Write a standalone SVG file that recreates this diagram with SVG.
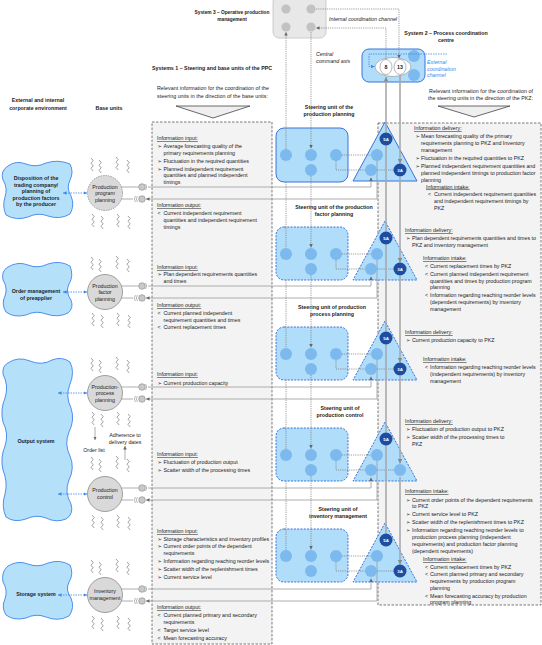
<svg xmlns="http://www.w3.org/2000/svg" width="542" height="645" viewBox="0 0 542 645">
<style>
text{font-family:"Liberation Sans",Arial,"DejaVu Sans",sans-serif;font-size:5.3px;fill:#222}
.b{font-weight:bold}
.u{text-decoration:underline}
.i{font-style:italic}
.m{text-anchor:middle}
.bul{font-family:"DejaVu Sans",sans-serif;font-size:5.2px}
.env{fill:#b5e0fa;stroke:#3d86ec;stroke-width:0.9}
.bu{fill:#d9d9d9;stroke:#8a8a8a;stroke-width:0.8}
.su{fill:#b0ddf9;stroke:#3b72dc;stroke-width:1}
.dash{stroke-dasharray:2,1.3}
.lc{fill:#7cb9ef}
.dc{fill:#1e4c9f}
.wt{fill:#fff;font-weight:bold;font-size:4.4px;text-anchor:middle}
.info{fill:#f3f3f3;stroke:#444;stroke-width:0.7;stroke-dasharray:2.5,1.5}
.dot{fill:none;stroke:#777;stroke-width:0.7;stroke-dasharray:1.2,1}
.gl{fill:none;stroke:#9a9a9a;stroke-width:0.8}
.cl{fill:none;stroke:#a9a9a9;stroke-width:1.6}
.ba{fill:none;stroke:#3d86ec;stroke-width:0.8;stroke-dasharray:1.5,1}
.sq{fill:none;stroke:#555;stroke-width:0.55}
.lp{fill:#c9c9c9;stroke:#888;stroke-width:0.6}
.arc{fill:none;stroke:#888;stroke-width:0.6}
</style>
<defs>
<marker id="mg" viewBox="0 0 6 6" refX="6" refY="3" markerUnits="userSpaceOnUse" markerWidth="3.5" markerHeight="3.5" orient="auto-start-reverse"><path d="M0,0L6,3L0,6z" fill="#666"/></marker>
<marker id="mb" viewBox="0 0 6 6" refX="6" refY="3" markerUnits="userSpaceOnUse" markerWidth="3.5" markerHeight="3.5" orient="auto-start-reverse"><path d="M0,0L6,3L0,6z" fill="#3d86ec"/></marker>
<marker id="mc" viewBox="0 0 6 6" refX="6" refY="3" markerUnits="userSpaceOnUse" markerWidth="4.5" markerHeight="4.5" orient="auto-start-reverse"><path d="M0,0L6,3L0,6z" fill="#8a8a8a"/></marker>
<path id="sq" class="sq" d="M0,0 l2.2,2.6 l-2.2,2.6 l2.2,2.6 l-2.2,2.6 l2.2,2.6"/>
</defs>

<!-- information boxes -->
<g id="info-left"><rect class="info" x="152" y="122" width="120" height="522"/></g>
<g id="info-right"><rect class="info" x="378" y="123" width="163" height="482"/></g>

<!-- titles -->
<g id="titles">
<text class="b m" x="232" y="14" style="font-size:4.8px">System 3 – Operative production</text>
<text class="b m" x="232" y="21" style="font-size:4.8px">management</text>
<text class="i" x="329" y="21">Internal coordination channel</text>
<text class="i" x="316" y="56">Central</text>
<text class="i" x="316" y="63">command axis</text>
<text class="b m" x="446" y="35">System 2 – Process coordination</text>
<text class="b m" x="446" y="42">centre</text>
<text class="i" x="427" y="64" style="fill:#3d86ec">External</text>
<text class="i" x="427" y="70.5" style="fill:#3d86ec">coordination</text>
<text class="i" x="427" y="77" style="fill:#3d86ec">channel</text>
<text class="b" x="152" y="70">Systems 1 – Steering and base units of the PPC</text>
<text x="157" y="90" textLength="112" lengthAdjust="spacing">Relevant information for the coordination of the</text>
<text x="157" y="97.5" textLength="111" lengthAdjust="spacing">steering units in the direction of the base units:</text>
<text x="429" y="92.5" textLength="104" lengthAdjust="spacing">Relevant information for the coordination of</text>
<text x="428" y="100" textLength="105" lengthAdjust="spacing">the steering units in the direction of the PKZ:</text>
<text class="b m" x="38" y="102">External and internal</text>
<text class="b m" x="38" y="110">corporate environment</text>
<text class="b m" x="109" y="110">Base units</text>
<polygon points="176,106 250,106 213,118" fill="#efefef" stroke="#444" stroke-width="0.8"/>
<polygon points="438,106 510,106 474,117" fill="#efefef" stroke="#444" stroke-width="0.8"/>
<text class="b m" x="329" y="109">Steering unit of the</text>
<text class="b m" x="329" y="116">production planning</text>
<text class="b m" x="334" y="209">Steering unit of the production</text>
<text class="b m" x="334" y="215.5">factor planning</text>
<text class="b m" x="332" y="309">Steering unit of production</text>
<text class="b m" x="332" y="315.5">process planning</text>
<text class="b m" x="340" y="410">Steering unit of</text>
<text class="b m" x="340" y="417">production control</text>
<text class="b m" x="338" y="511">Steering unit of</text>
<text class="b m" x="338" y="518">inventory management</text>
</g>

<!-- System 3 -->
<g id="system3">
<rect x="273" y="-4" width="53" height="42" rx="6" fill="#e8e8e8" stroke="#c2c2c2" stroke-width="0.8"/>
<circle cx="286" cy="9" r="4.6" fill="#c2c2c2"/><circle cx="311" cy="9" r="4.6" fill="#c2c2c2"/>
<circle cx="286" cy="27" r="4.6" fill="#c2c2c2"/><circle cx="311" cy="27" r="4.6" fill="#c2c2c2"/>
</g>

<!-- System 2 -->
<g id="system2">
<rect class="su" x="362" y="49" width="63" height="33" rx="7"/>
<circle class="lc" cx="414" cy="56" r="6"/><circle class="lc" cx="414" cy="75" r="6"/>
<ellipse cx="393" cy="67" rx="18" ry="9.5" fill="#fff" stroke="#999" stroke-width="0.7"/>
<ellipse cx="386" cy="67" rx="6" ry="7.5" fill="#fff" stroke="#888" stroke-width="0.6"/>
<ellipse cx="400" cy="67" rx="6" ry="7.5" fill="#fff" stroke="#888" stroke-width="0.6"/>
<text class="b m" x="386" y="69">8</text>
<text class="b m" x="400" y="69">13</text>
</g>

<!-- environment -->
<g id="env-disposition">
<path class="env" d="M8,166 Q16,160 26,164 Q36,168 46,163 Q58,159 70,164 Q74,172 70,180 Q66,188 71,196 Q75,205 70,214 Q60,220 48,216 Q38,212 28,217 Q16,221 6,215 Q2,206 5,197 Q8,188 3,180 Q0,171 8,166 Z"/>
<text class="b m" x="36" y="180">Disposition of the</text>
<text class="b m" x="36" y="186.6">trading company/</text>
<text class="b m" x="36" y="193.2">planning of</text>
<text class="b m" x="36" y="199.8">production factors</text>
<text class="b m" x="36" y="206.4">by the producer</text>
</g>
<g id="env-order">
<path class="env" d="M8,267 Q18,261 28,265 Q38,269 48,264 Q60,260 70,266 Q74,276 69,284 Q65,292 71,300 Q74,308 68,313 Q58,318 46,314 Q36,310 26,315 Q14,318 6,312 Q1,304 5,296 Q8,288 3,280 Q1,271 8,267 Z"/>
<text class="b m" x="36" y="292.5">Order management</text>
<text class="b m" x="36" y="299.5">of preapplier</text>
</g>
<g id="env-output">
<path class="env" d="M8,363 Q18,356 30,361 Q42,366 52,360 Q62,356 70,362 Q75,372 70,384 Q65,396 71,408 Q75,420 69,432 Q64,444 70,456 Q75,468 69,480 Q64,492 71,504 Q74,514 66,519 Q56,523 46,518 Q36,514 26,519 Q14,523 6,517 Q1,506 5,494 Q8,482 3,470 Q0,458 5,446 Q9,434 3,422 Q0,410 5,398 Q9,386 3,374 Q2,366 8,363 Z"/>
<text class="b m" x="36" y="443">Output system</text>
</g>
<g id="env-storage">
<path class="env" d="M8,566 Q18,560 28,564 Q38,568 48,563 Q60,559 70,565 Q74,574 69,582 Q65,590 71,598 Q75,608 69,616 Q58,622 46,617 Q36,613 26,618 Q14,621 6,615 Q1,607 5,599 Q8,590 3,582 Q1,572 8,566 Z"/>
<text class="b m" x="36" y="596">Storage system</text>
</g>

<!-- base units -->
<g id="bu-program">
<circle class="bu" cx="105" cy="193" r="17.5" style="stroke-dasharray:1.5,1"/>
<text class="m" x="105" y="188.5">Production</text><text class="m" x="105" y="195">program</text><text class="m" x="105" y="201.5">planning</text>
<use href="#sq" x="91" y="158"/><use href="#sq" x="99" y="160"/><use href="#sq" x="116" y="157"/><use href="#sq" x="127" y="160"/>
<use href="#sq" x="92" y="214"/><use href="#sq" x="101" y="216"/><use href="#sq" x="117" y="214"/><use href="#sq" x="128" y="216"/>
<line class="gl" x1="121" y1="187" x2="138.7" y2="187"/><circle class="lp" cx="142" cy="187" r="3.3"/><path class="arc" d="M145.5,184 Q148,187 145.5,190"/>
<line class="gl" x1="121" y1="199" x2="133" y2="199"/><circle class="lp" cx="142" cy="199" r="3.3"/><path class="arc" d="M137.5,196 Q135,199 137.5,202 M135.5,196 Q133,199 135.5,202"/>
</g>
<g id="bu-factor">
<circle class="bu" cx="105" cy="292" r="17.5"/>
<text class="m" x="105" y="287.5">Production</text><text class="m" x="105" y="294">factor</text><text class="m" x="105" y="300.5">planning</text>
<use href="#sq" x="91" y="257"/><use href="#sq" x="99" y="259"/><use href="#sq" x="116" y="256"/><use href="#sq" x="127" y="259"/>
<use href="#sq" x="92" y="313"/><use href="#sq" x="101" y="315"/><use href="#sq" x="117" y="313"/><use href="#sq" x="128" y="315"/>
<line class="gl" x1="121" y1="286" x2="138.7" y2="286"/><circle class="lp" cx="142" cy="286" r="3.3"/><path class="arc" d="M145.5,283 Q148,286 145.5,289"/>
<line class="gl" x1="121" y1="298" x2="133" y2="298"/><circle class="lp" cx="142" cy="298" r="3.3"/><path class="arc" d="M137.5,295 Q135,298 137.5,301 M135.5,295 Q133,298 135.5,301"/>
</g>
<g id="bu-process">
<circle class="bu" cx="105" cy="393" r="17.5"/>
<text class="m" x="105" y="388.5">Production-</text><text class="m" x="105" y="395">process</text><text class="m" x="105" y="401.5">planning</text>
<use href="#sq" x="91" y="358"/><use href="#sq" x="99" y="360"/><use href="#sq" x="116" y="357"/><use href="#sq" x="127" y="360"/>
<use href="#sq" x="92" y="412"/><use href="#sq" x="101" y="414"/><use href="#sq" x="117" y="412"/><use href="#sq" x="128" y="414"/>
<line class="gl" x1="121" y1="387" x2="138.7" y2="387"/><circle class="lp" cx="142" cy="387" r="3.3"/><path class="arc" d="M145.5,384 Q148,387 145.5,390"/>
<line class="gl" x1="121" y1="399" x2="133" y2="399"/><circle class="lp" cx="142" cy="399" r="3.3"/><path class="arc" d="M137.5,396 Q135,399 137.5,402 M135.5,396 Q133,399 135.5,402"/>
</g>
<g id="bu-control">
<circle class="bu" cx="105" cy="494" r="17.5"/>
<text class="m" x="105" y="492">Production</text><text class="m" x="105" y="498.5">control</text>
<use href="#sq" x="91" y="457"/><use href="#sq" x="99" y="459"/><use href="#sq" x="116" y="456"/><use href="#sq" x="127" y="459"/>
<use href="#sq" x="92" y="515"/><use href="#sq" x="101" y="517"/><use href="#sq" x="117" y="515"/><use href="#sq" x="128" y="517"/>
<line class="gl" x1="121" y1="488" x2="138.7" y2="488"/><circle class="lp" cx="142" cy="488" r="3.3"/><path class="arc" d="M145.5,485 Q148,488 145.5,491"/>
<line class="gl" x1="121" y1="500" x2="133" y2="500"/><circle class="lp" cx="142" cy="500" r="3.3"/><path class="arc" d="M137.5,497 Q135,500 137.5,503 M135.5,497 Q133,500 135.5,503"/>
</g>
<g id="bu-inventory">
<circle class="bu" cx="105" cy="595" r="17.5"/>
<text class="m" x="105" y="593">Inventory</text><text class="m" x="105" y="599.5">management</text>
<use href="#sq" x="91" y="560"/><use href="#sq" x="99" y="562"/><use href="#sq" x="116" y="559"/><use href="#sq" x="127" y="562"/>
<use href="#sq" x="92" y="616"/><use href="#sq" x="101" y="618"/><use href="#sq" x="117" y="616"/><use href="#sq" x="128" y="618"/>
<line class="gl" x1="121" y1="589" x2="138.7" y2="589"/><circle class="lp" cx="142" cy="589" r="3.3"/><path class="arc" d="M145.5,586 Q148,589 145.5,592"/>
<line class="gl" x1="121" y1="601" x2="133" y2="601"/><circle class="lp" cx="142" cy="601" r="3.3"/><path class="arc" d="M137.5,598 Q135,601 137.5,604 M135.5,598 Q133,601 135.5,604"/>
</g>

<!-- steering units -->
<g id="su-planning">
<rect class="su" x="276" y="128" width="72" height="54" rx="8"/>
<circle class="lc" cx="286" cy="155" r="6"/><circle class="lc" cx="311" cy="155" r="6"/><circle class="lc" cx="336" cy="155" r="6"/><circle class="lc" cx="311" cy="170" r="6"/>
</g>
<g id="su-factor">
<rect class="su dash" x="276" y="227" width="72" height="53" rx="8"/>
<circle class="lc" cx="286" cy="254" r="6"/><circle class="lc" cx="311" cy="254" r="6"/><circle class="lc" cx="336" cy="254" r="6"/><circle class="lc" cx="311" cy="269" r="6"/>
</g>
<g id="su-process">
<rect class="su dash" x="276" y="327" width="72" height="53" rx="8"/>
<circle class="lc" cx="286" cy="354" r="6"/><circle class="lc" cx="311" cy="354" r="6"/><circle class="lc" cx="336" cy="354" r="6"/><circle class="lc" cx="311" cy="369" r="6"/>
</g>
<g id="su-control">
<rect class="su dash" x="276" y="428" width="72" height="53" rx="8"/>
<circle class="lc" cx="286" cy="455" r="6"/><circle class="lc" cx="311" cy="455" r="6"/><circle class="lc" cx="336" cy="455" r="6"/><circle class="lc" cx="311" cy="470" r="6"/>
</g>
<g id="su-inventory">
<rect class="su dash" x="276" y="529" width="72" height="53" rx="8"/>
<circle class="lc" cx="286" cy="556" r="6"/><circle class="lc" cx="311" cy="556" r="6"/><circle class="lc" cx="336" cy="556" r="6"/><circle class="lc" cx="311" cy="571" r="6"/>
</g>

<!-- PKZ triangles -->
<g id="pkz-1">
<polygon class="su" points="385,122 353,181 417,181"/>
</g>
<g id="pkz-2">
<polygon class="su dash" points="385,221 353,280 417,280"/>
</g>
<g id="pkz-3">
<polygon class="su dash" points="385,321 353,380 417,380"/>
</g>
<g id="pkz-4">
<polygon class="su dash" points="385,422 353,481 417,481"/>
</g>
<g id="pkz-5">
<polygon class="su dash" points="385,523 353,582 417,582"/>
</g>

<!-- connectors -->
<g id="connectors">
<path class="ba" marker-start="url(#mb)" marker-end="url(#mb)" d="M63,193H87"/>
<path class="ba" marker-start="url(#mb)" marker-end="url(#mb)" d="M63,292H87"/>
<path class="ba" marker-start="url(#mb)" marker-end="url(#mb)" d="M58,393H87"/>
<path class="ba" marker-start="url(#mb)" marker-end="url(#mb)" d="M58,494H87"/>
<path class="ba" marker-start="url(#mb)" marker-end="url(#mb)" d="M58,595H87"/>
<path class="ba" marker-end="url(#mb)" d="M447,54H369V66.5H374.5"/>
<path class="gl" marker-end="url(#mg)" d="M148,187H371V177.5"/><path class="gl" marker-end="url(#mg)" d="M377,161V199H146"/>
<path class="gl" marker-end="url(#mg)" d="M148,286H371V276.5"/><path class="gl" marker-end="url(#mg)" d="M377,260V298H146"/>
<path class="gl" marker-end="url(#mg)" d="M148,387H371V376.5"/><path class="gl" marker-end="url(#mg)" d="M377,360V399H146"/>
<path class="gl" marker-end="url(#mg)" d="M148,488H371V477.5"/><path class="gl" marker-end="url(#mg)" d="M377,461V500H146"/>
<path class="gl" marker-end="url(#mg)" d="M148,589H371V578.5"/><path class="gl" marker-end="url(#mg)" d="M377,562V601H146"/>
<path class="dot" marker-end="url(#mg)" d="M286,149V32"/>
<path class="dot" marker-end="url(#mg)" d="M311,32V148.5"/>
<path class="dot" d="M286,182V248M286,280V348M286,380V449M286,481V550"/>
<path class="dot" marker-end="url(#mg)" d="M311,176V247.5"/>
<path class="dot" marker-end="url(#mg)" d="M311,275V347.5"/>
<path class="dot" marker-end="url(#mg)" d="M311,375V448.5"/>
<path class="dot" marker-end="url(#mg)" d="M311,476V549.5"/>
<path class="dot" d="M342,155H371M336,161V170H365M377,170H394"/>
<path class="dot" d="M342,254H371M336,260V269H365M377,269H394"/>
<path class="dot" d="M342,354H371M336,360V369H365M377,369H394"/>
<path class="dot" d="M342,455H371M336,461V470H365M377,470H394"/>
<path class="dot" d="M342,556H371M336,562V571H365M377,571H394"/>
<path class="dot" marker-end="url(#mg)" d="M316,9H399V58.5"/>
<path class="dot" marker-end="url(#mg)" d="M386,59V28H316"/>
<path class="cl" marker-end="url(#mc)" d="M386,132.5V77"/>
<path class="cl" d="M386,145.5V231.5M386,244.5V331.5M386,344.5V432.5M386,445.5V533.5"/>
<path class="cl" marker-end="url(#mc)" d="M400,75V163.5"/>
<path class="cl" marker-end="url(#mc)" d="M400,177V262.5"/>
<path class="cl" marker-end="url(#mc)" d="M400,276V362.5"/>
<path class="cl" marker-end="url(#mc)" d="M400,376V463.5"/>
<path class="cl" marker-end="url(#mc)" d="M400,477V564.5"/>
<path class="gl" marker-end="url(#mg)" d="M95,427V440"/>
<path class="gl" marker-end="url(#mg)" d="M125,460V446"/>
</g>

<!-- triangle circles -->
<g id="pkz-nodes">
<circle class="dc" cx="386" cy="139" r="6.5"/><text class="wt" x="386" y="140.6">5A</text>
<circle class="lc" cx="377" cy="155" r="6"/><circle class="lc" cx="371" cy="170" r="6"/>
<circle class="dc" cx="400" cy="170" r="6.5"/><text class="wt" x="400" y="171.6">3A</text>
<circle class="dc" cx="386" cy="238" r="6.5"/><text class="wt" x="386" y="239.6">5A</text>
<circle class="lc" cx="377" cy="254" r="6"/><circle class="lc" cx="371" cy="269" r="6"/>
<circle class="dc" cx="400" cy="269" r="6.5"/><text class="wt" x="400" y="270.6">3A</text>
<circle class="dc" cx="386" cy="338" r="6.5"/><text class="wt" x="386" y="339.6">5A</text>
<circle class="lc" cx="377" cy="354" r="6"/><circle class="lc" cx="371" cy="369" r="6"/>
<circle class="dc" cx="400" cy="369" r="6.5"/><text class="wt" x="400" y="370.6">3A</text>
<circle class="dc" cx="386" cy="439" r="6.5"/><text class="wt" x="386" y="440.6">5A</text>
<circle class="lc" cx="377" cy="455" r="6"/><circle class="lc" cx="371" cy="470" r="6"/>
<circle class="lc" cx="400" cy="470" r="6"/>
<circle class="dc" cx="386" cy="540" r="6.5"/><text class="wt" x="386" y="541.6">5A</text>
<circle class="lc" cx="377" cy="556" r="6"/><circle class="lc" cx="371" cy="571" r="6"/>
<circle class="dc" cx="400" cy="571" r="6.5"/><text class="wt" x="400" y="572.6">3A</text>
</g>

<!-- small labels -->
<g id="flow-labels">
<text class="m" x="94" y="452">Order list</text>
<text class="m" x="125" y="437">Adherence to</text>
<text class="m" x="125" y="443.5">delivery dates</text>
</g>

<!-- left info texts -->
<g id="info-left-text">
<text class="u" x="157" y="140">Information input:</text>
<text class="bul" x="157.5" y="148">➢</text><text x="163.5" y="148">Average forecasting quality of the</text>
<text x="163.5" y="155">primary requirements planning</text>
<text class="bul" x="157.5" y="163">➢</text><text x="163.5" y="163">Fluctuation in the required quantities</text>
<text class="bul" x="157.5" y="170.5">➢</text><text x="163.5" y="170.5">Planned independent requirement</text>
<text x="163.5" y="177.3">quantities and planned independent</text>
<text x="163.5" y="184">timings</text>
<text class="u" x="157" y="207">Information output:</text>
<text x="157.5" y="215">&lt;</text><text x="163.5" y="215">Current independent requirement</text>
<text x="163.5" y="222">quantities and independent requirement</text>
<text x="163.5" y="229">timings</text>
<text class="u" x="157" y="269">Information input:</text>
<text class="bul" x="157.5" y="276">➢</text><text x="163.5" y="276">Plan dependent requirements quantities</text>
<text x="163.5" y="283">and times</text>
<text class="u" x="157" y="307">Information output:</text>
<text x="157.5" y="315">&lt;</text><text x="163.5" y="315">Current planned independent</text>
<text x="163.5" y="321.5">requirement quantities and times</text>
<text x="157.5" y="329">&lt;</text><text x="163.5" y="329">Current replacement times</text>
<text class="u" x="157" y="376">Information input:</text>
<text class="bul" x="157.5" y="385">➢</text><text x="163.5" y="385">Current production capacity</text>
<text class="u" x="157" y="456">Information input:</text>
<text class="bul" x="157.5" y="464">➢</text><text x="163.5" y="464">Fluctuation of production output</text>
<text class="bul" x="157.5" y="472">➢</text><text x="163.5" y="472">Scatter width of the processing times</text>
<text class="u" x="157" y="533">Information input:</text>
<text class="bul" x="157.5" y="540.5">➢</text><text x="163.5" y="540.5">Storage characteristics and inventory profiles</text>
<text class="bul" x="157.5" y="548">➢</text><text x="163.5" y="548">Current order points of the dependent</text>
<text x="163.5" y="555">requirements</text>
<text class="bul" x="157.5" y="563">➢</text><text x="163.5" y="563">Information regarding reaching reorder levels</text>
<text class="bul" x="157.5" y="571">➢</text><text x="163.5" y="571">Scatter width of the replenishment times</text>
<text class="bul" x="157.5" y="579">➢</text><text x="163.5" y="579">Current service level</text>
<text class="u" x="157" y="609">Information output:</text>
<text x="157.5" y="617">&lt;</text><text x="163.5" y="617">Current planned primary and secondary</text>
<text x="163.5" y="623.5">requirements</text>
<text x="157.5" y="632">&lt;</text><text x="163.5" y="632">Target service level</text>
<text x="157.5" y="640">&lt;</text><text x="163.5" y="640">Mean forecasting accuracy</text>
</g>

<!-- right info texts -->
<g id="info-right-text">
<text class="u" x="414" y="130">Information delivery:</text>
<text class="bul" x="415.5" y="138">➢</text><text x="421" y="138">Mean forecasting quality of the primary</text>
<text x="421" y="145">requirements planning to PKZ and Inventory</text>
<text x="421" y="152">management</text>
<text class="bul" x="415.5" y="160">➢</text><text x="421" y="160">Fluctuation in the required quantities to PKZ</text>
<text class="bul" x="415.5" y="168">➢</text><text x="421" y="168">Planned independent requirement quantities and</text>
<text x="421" y="175">planned independent timings to production factor</text>
<text x="421" y="181.5">planning</text>
<text class="u" x="426" y="188.5">Information intake:</text>
<text x="428" y="196">&lt;</text><text x="434" y="196">Current independent requirement quantities</text>
<text x="434" y="203">and independent requirement timings by</text>
<text x="434" y="210">PKZ</text>

<text class="u" x="405" y="232">Information delivery:</text>
<text class="bul" x="406" y="240">➢</text><text x="412" y="240">Plan dependent requirements quantities and times to</text>
<text x="412" y="246.5">PKZ and inventory management</text>
<text class="u" x="423" y="260">Information intake:</text>
<text x="425" y="267.5">&lt;</text><text x="430" y="267.5">Current replacement times by PKZ</text>
<text x="425" y="276">&lt;</text><text x="430" y="276">Current planned independent requirement</text>
<text x="430" y="282.5">quantities and times by production program</text>
<text x="430" y="289">planning</text>
<text x="425" y="297">&lt;</text><text x="430" y="297">Information regarding reaching reorder levels</text>
<text x="430" y="304">(dependent requirements) by inventory</text>
<text x="430" y="310.5">management</text>

<text class="u" x="405" y="334">Information delivery:</text>
<text class="bul" x="406" y="342">➢</text><text x="412" y="342">Current production capacity to PKZ</text>
<text class="u" x="423" y="361">Information intake:</text>
<text x="425" y="369">&lt;</text><text x="430" y="369">Information regarding reaching reorder levels</text>
<text x="430" y="376">(independent requirements) by inventory</text>
<text x="430" y="382.5">management</text>

<text class="u" x="405" y="423">Information delivery:</text>
<text class="bul" x="406" y="431">➢</text><text x="412" y="431">Fluctuation of production output to PKZ</text>
<text class="bul" x="406" y="439">➢</text><text x="412" y="439">Scatter width of the processing times to</text>
<text x="412" y="446">PKZ</text>

<text class="u" x="405" y="493">Information intake:</text>
<text class="bul" x="406" y="501.5">➢</text><text x="412" y="501.5">Current order points of the dependent requirements</text>
<text x="412" y="508">to PKZ</text>
<text class="bul" x="406" y="516">➢</text><text x="412" y="516">Current service level to PKZ</text>
<text class="bul" x="406" y="524">➢</text><text x="412" y="524">Scatter width of the replenishment times to PKZ</text>
<text class="bul" x="406" y="532">➢</text><text x="412" y="532">Information regarding reaching reorder levels to</text>
<text x="412" y="539">production process planning (independent</text>
<text x="412" y="546">requirements) and production factor planning</text>
<text x="412" y="552.5">(dependent requirements)</text>
<text class="u" x="423" y="561">Information intake:</text>
<text x="425" y="568.5">&lt;</text><text x="430" y="568.5">Current replacement times by PKZ</text>
<text x="425" y="576">&lt;</text><text x="430" y="576">Current planned primary and secondary</text>
<text x="430" y="583">requirements by production program</text>
<text x="430" y="590">planning</text>
<text x="425" y="598">&lt;</text><text x="430" y="598">Mean forecasting accuracy by production</text>
<text x="430" y="604">program planning</text>
</g>
</svg>
